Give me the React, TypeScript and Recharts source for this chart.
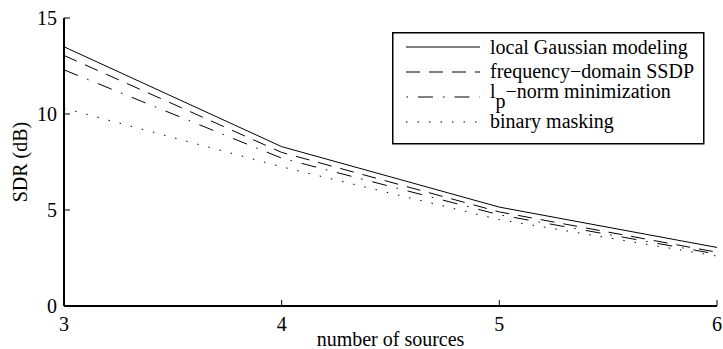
import React from 'react';
import { LineChart, Line, XAxis, YAxis, Label } from 'recharts';

const sources = [3, 4, 5, 6];
const localGaussian = [13.5, 8.3, 5.15, 3.05];
const freqSSDP = [13.05, 8.0, 4.9, 2.8];
const lpNorm = [12.3, 7.7, 4.75, 2.7];
const binaryMasking = [10.3, 7.25, 4.5, 2.6];
const yTicks = [0, 5, 10, 15];
const xTicks = [3, 4, 5, 6];

const data = sources.map((s, i) => ({
  s,
  lg: localGaussian[i],
  fs: freqSSDP[i],
  lp: lpNorm[i],
  bm: binaryMasking[i],
}));

const FONT = '"Liberation Serif", "Times New Roman", serif';

const DASHED = '14 9';
const DASHDOT = '15 10 1.5 10';
const DOTTED = '1.5 10';

const LegendBox = () => (
  <svg width={313} height={113} style={{ display: 'block' }}>
    <rect x={0.75} y={0.75} width={311} height={111} fill="#fff" stroke="#000" strokeWidth={1.5} />
    <line x1={14} x2={88} y1={15} y2={15} stroke="#000" strokeWidth={1} />
    <text x={98} y={22} fontFamily={FONT} fontSize={20} fill="#000">local Gaussian modeling</text>
    <line x1={14} x2={88} y1={40} y2={40} stroke="#000" strokeWidth={1} strokeDasharray={DASHED} />
    <text x={98} y={46} fontFamily={FONT} fontSize={20} fill="#000">frequency−domain SSDP</text>
    <line x1={14.5} x2={88} y1={65} y2={65} stroke="#000" strokeWidth={1} strokeDasharray="1.5 10 15 10" />
    <text x={98} y={66} fontFamily={FONT} fontSize={20} fill="#000">
      l<tspan dy={10}>p</tspan><tspan dy={-10}>−norm minimization</tspan>
    </text>
    <line x1={14} x2={88} y1={90} y2={90} stroke="#000" strokeWidth={1} strokeDasharray={DOTTED} />
    <text x={98} y={96} fontFamily={FONT} fontSize={20} fill="#000">binary masking</text>
  </svg>
);

export default function App() {
  return (
    <div style={{ position: 'absolute', left: 0, top: 0, width: 723, height: 349, background: '#fff', fontFamily: FONT }}>
      <style>{`.recharts-text, .recharts-label { font-family: "Liberation Serif", "Times New Roman", serif !important; }`}</style>
      <LineChart
        width={723}
        height={349}
        data={data}
        margin={{ top: 18, right: 6, bottom: 0, left: 0 }}
      >
        <XAxis
          xAxisId="b"
          dataKey="s"
          type="number"
          domain={[3, 6]}
          ticks={xTicks}
          height={43}
          tickSize={-6}
          tickMargin={17}
          axisLine={{ stroke: '#000', strokeWidth: 2 }}
          tickLine={{ stroke: '#000', strokeWidth: 1 }}
          tick={{ fill: '#000', fontSize: 20, fontFamily: FONT }}
          interval={0}
        >
          <Label
            value="number of sources"
            position="insideBottom"
            offset={3}
            style={{ fill: '#000', fontSize: 20, fontFamily: FONT }}
          />
        </XAxis>
        <XAxis
          xAxisId="t"
          orientation="top"
          dataKey="s"
          type="number"
          domain={[3, 6]}
          ticks={xTicks}
          height={0}
          tickSize={-6}
          axisLine={{ stroke: '#000', strokeWidth: 2 }}
          tickLine={{ stroke: '#000', strokeWidth: 1 }}
          tickFormatter={() => ''}
          interval={0}
        />
        <YAxis
          yAxisId="l"
          type="number"
          domain={[0, 15]}
          ticks={yTicks}
          width={64}
          tickSize={-6}
          tickMargin={13}
          axisLine={{ stroke: '#000', strokeWidth: 2 }}
          tickLine={{ stroke: '#000', strokeWidth: 1 }}
          tick={{ fill: '#000', fontSize: 20, fontFamily: FONT }}
          interval={0}
        >
          <Label
            value="SDR (dB)"
            angle={-90}
            position="insideLeft"
            offset={20}
            style={{ fill: '#000', fontSize: 20, fontFamily: FONT, textAnchor: 'middle' }}
          />
        </YAxis>
        <YAxis
          yAxisId="r"
          orientation="right"
          type="number"
          domain={[0, 15]}
          ticks={yTicks}
          width={0}
          tickSize={-6}
          axisLine={{ stroke: '#000', strokeWidth: 2 }}
          tickLine={{ stroke: '#000', strokeWidth: 1 }}
          tickFormatter={() => ''}
          interval={0}
        />
        <Line xAxisId="b" yAxisId="l" dataKey="lg" stroke="#000" strokeWidth={1} dot={false} isAnimationActive={false} type="linear" />
        <Line xAxisId="b" yAxisId="l" dataKey="fs" stroke="#000" strokeWidth={1} strokeDasharray={DASHED} dot={false} isAnimationActive={false} type="linear" />
        <Line xAxisId="b" yAxisId="l" dataKey="lp" stroke="#000" strokeWidth={1} strokeDasharray={DASHDOT} dot={false} isAnimationActive={false} type="linear" />
        <Line xAxisId="b" yAxisId="l" dataKey="bm" stroke="#000" strokeWidth={1} strokeDasharray={DOTTED} dot={false} isAnimationActive={false} type="linear" />
      </LineChart>
      <div style={{ position: 'absolute', left: 392, top: 32 }}>
        <LegendBox />
      </div>
    </div>
  );
}
